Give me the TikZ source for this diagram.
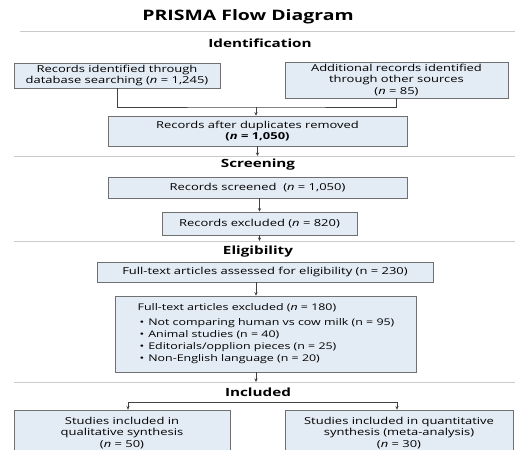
\documentclass[tikz,border=0pt]{standalone}
\usepackage{fontspec}
\setmainfont{Open Sans}[FakeStretch=1.35]
\usetikzlibrary{arrows.meta}
\definecolor{boxfill}{HTML}{E3EBF4}
\definecolor{boxline}{HTML}{707070}
\definecolor{rulegray}{HTML}{CACACA}
\newcommand{\nn}{\textit{n}}

\begin{document}
\begin{tikzpicture}[x=1pt,y=-1pt,>={Stealth[length=3.5pt,width=3.2pt]},
  box/.style={draw=boxline,fill=boxfill,line width=0.8pt,align=center,inner sep=2pt,font=\fontsize{9.6}{11.5}\selectfont},
  phase/.style={font=\bfseries\fontsize{11.3}{13}\selectfont},
  conn/.style={draw=black!75,line width=0.7pt},
  link/.style={conn,->},
  sep/.style={draw=rulegray,line width=0.8pt}]
\useasboundingbox (0,0) rectangle (515,450);

% title
\node[font=\bfseries\fontsize{14.4}{16}\selectfont] (title) at (248,17) {PRISMA Flow Diagram};
\draw[sep] (20,31) -- (515,31);

% identification
\node[phase] (ident) at (260,43) {Identification};
\node[box,minimum width=206,minimum height=25] (db) at (117,75.5)
  {Records identified through\\database searching (\nn{} = 1,245)};
\node[box,minimum width=223,minimum height=34] (other) at (396.5,80)
  {Additional records identified\\through other sources\\(\nn{} = 85)};
\node[box,minimum width=299,minimum height=30] (dedup) at (257.5,131)
  {Records after duplicates removed\\\textbf{(\textit{n} = 1,050)}};
\coordinate (merge) at (256,107);
\draw[conn] (db.south) |- (merge) -| (other.south);
\draw[link] (merge) -- (merge |- dedup.north);

% screening
\draw[sep] (14,156) -- (515,156);
\coordinate (sepB) at (257.5,156);
\draw[link] (dedup.south) -- (sepB);
\node[phase] (screen) at (258,165) {Screening};
\node[box,minimum width=299,minimum height=21] (screened) at (257.5,187.5)
  {Records screened\ \ (\nn{} = 1,050)};
\node[box,minimum width=195,minimum height=23] (excluded) at (259.5,223.5)
  {Records excluded (\nn{} = 820)};
\draw[link] (screened.south -| excluded) -- (excluded.north);

% eligibility
\draw[sep] (14,241) -- (515,241);
\coordinate (sepC) at (259.5,241);
\draw[link] (excluded.south) -- (sepC);
\node[phase] (elig) at (258,252) {Eligibility};
\node[box,minimum width=336,minimum height=20] (assess) at (265,272)
  {Full-text articles assessed for eligibility (n = 230)};
\node[box,minimum width=301,minimum height=76,align=left,font=\fontsize{9.2}{12}\selectfont] (ftexcl) at (266,334)
  {Full-text articles excluded (\nn{} = 180)\\[3pt]
   \hspace*{2pt}\textbullet\hspace{4pt}Not comparing human vs cow milk (n = 95)\\
   \hspace*{2pt}\textbullet\hspace{4pt}Animal studies (n = 40)\\
   \hspace*{2pt}\textbullet\hspace{4pt}Editorials/opplion pieces (n = 25)\\
   \hspace*{2pt}\textbullet\hspace{4pt}Non-English language (n = 20)};
\coordinate (spine) at (256,0);
\draw[link] (assess.south -| spine) -- (ftexcl.north -| spine);

% included
\draw[sep] (14,382) -- (515,382);
\coordinate (sepD) at (256,382);
\draw[link] (ftexcl.south -| sepD) -- (sepD);
\node[phase] (incl) at (258,392) {Included};
\node[box,minimum width=216,minimum height=46] (qual) at (122,433)
  {Studies included in\\qualitative synthesis\\(\nn{} = 50)};
\node[box,minimum width=228,minimum height=46] (quant) at (399,433)
  {Studies included in quantitative\\synthesis (meta-analysis)\\(\nn{} = 30)};
\coordinate (splitL) at (128,402);
\coordinate (splitR) at (397,402);
\draw[conn,<->] (splitL |- qual.north) -- (splitL) -- (splitR) -- (splitR |- quant.north);
\end{tikzpicture}
\end{document}
